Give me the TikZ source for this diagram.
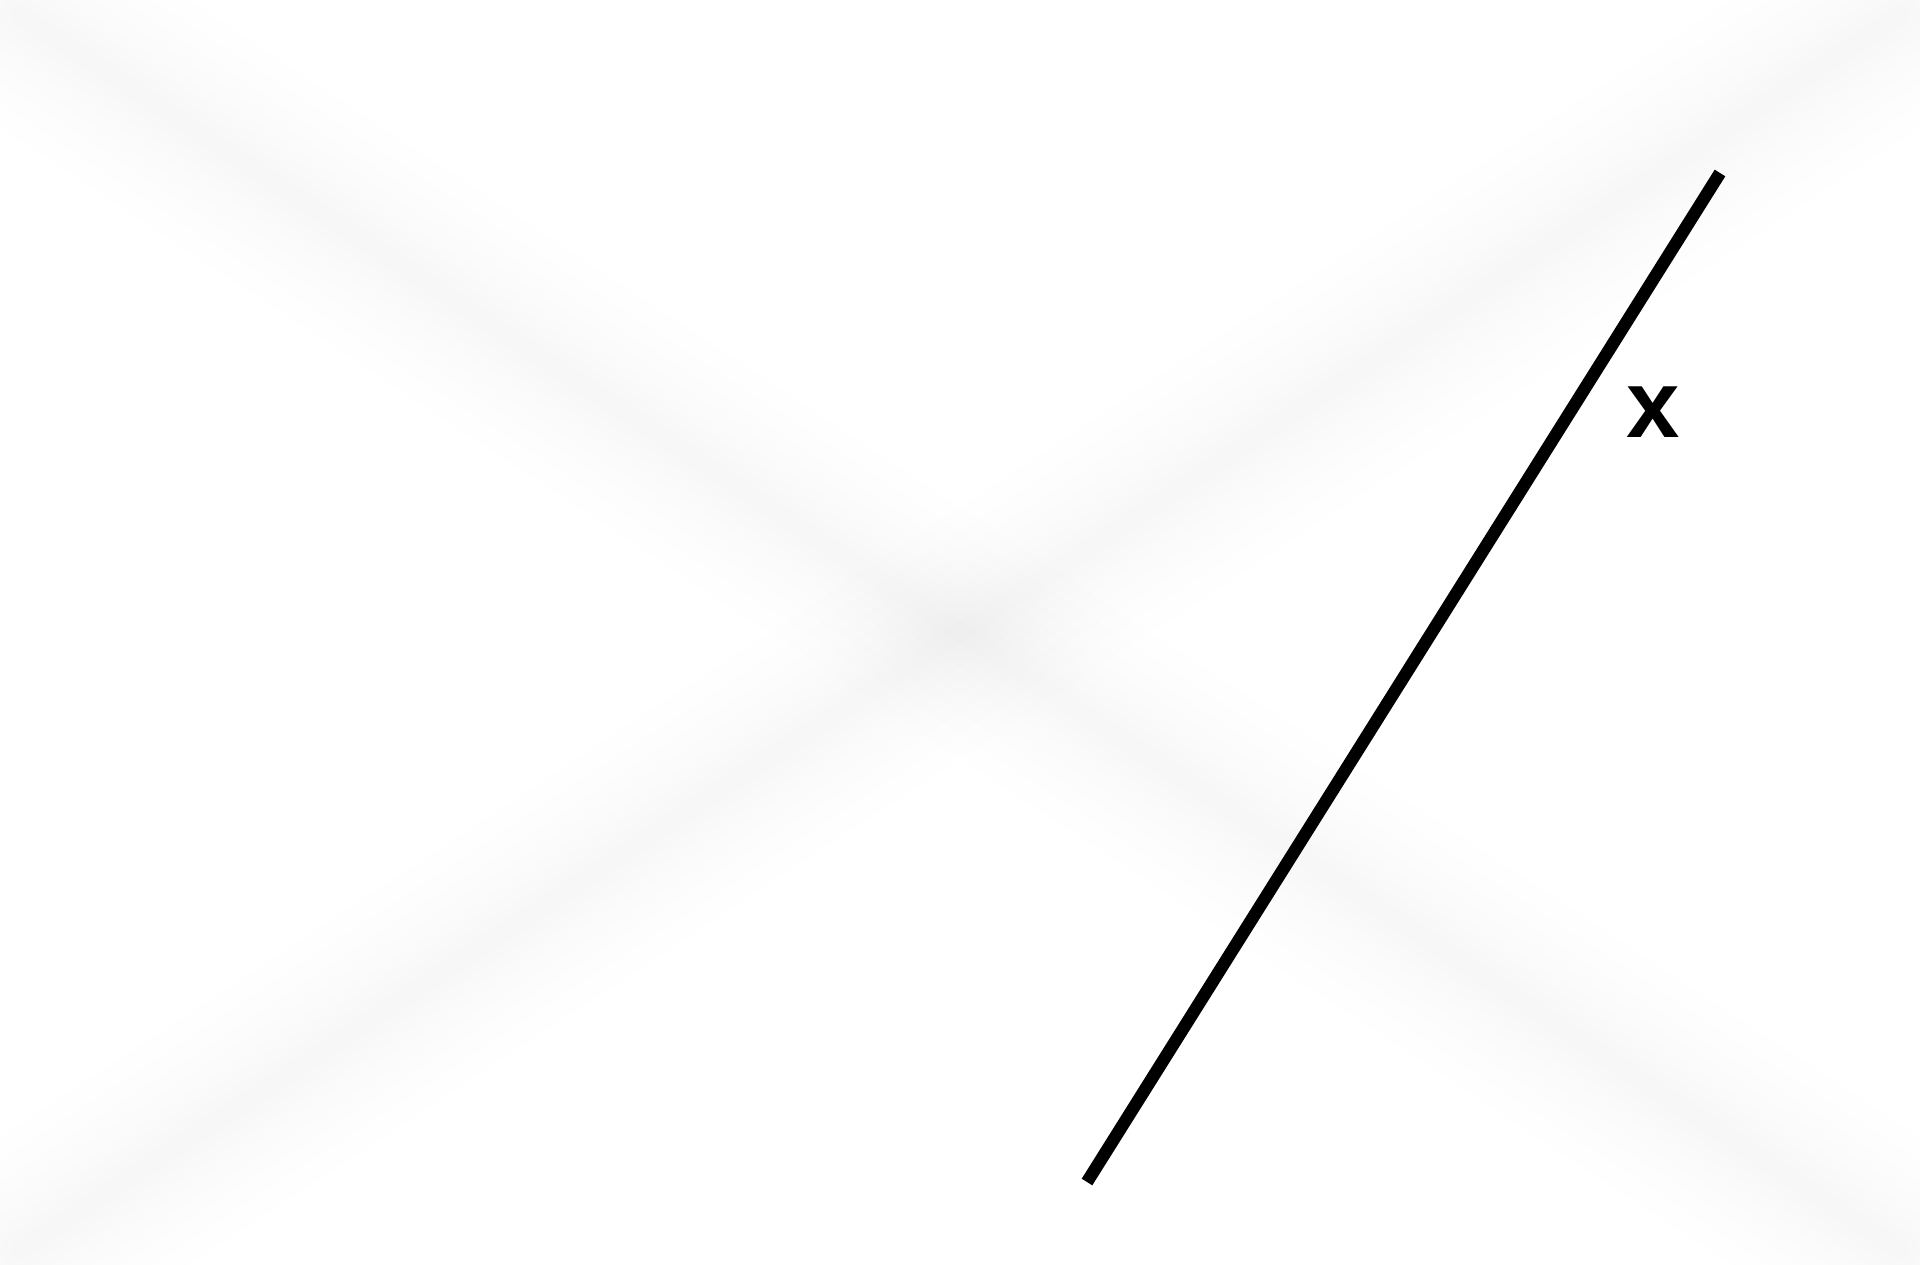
\documentclass[tikz,border=0pt]{standalone}
\usepackage{fontspec}
\setmainfont{Liberation Sans}
\begin{document}
\begin{tikzpicture}[x=1pt,y=-1pt,
  haze/.style={draw=black,draw opacity=0.0021,line cap=round},
  mainline/.style={draw=black,line width=12.5pt},
  lbl/.style={font=\fontsize{96}{96}\selectfont\bfseries,inner sep=0pt}]
\useasboundingbox (0,0) rectangle (1920,1265);
\coordinate (tl) at (20,15);
\coordinate (br) at (1900,1250);
\coordinate (bl) at (20,1250);
\coordinate (tr) at (1900,15);
\foreach \w in {210,170,135,105,80,58,38,20}{
  \draw[haze,line width=\w pt] (tl) -- (br);
  \draw[haze,line width=\w pt] (bl) -- (tr);
}
\coordinate (a) at (1087,1182);
\coordinate (b) at (1720,173);
\draw[mainline] (a) -- (b);
\node[lbl] (x) at (1653,412) {x};
\end{tikzpicture}
\end{document}
